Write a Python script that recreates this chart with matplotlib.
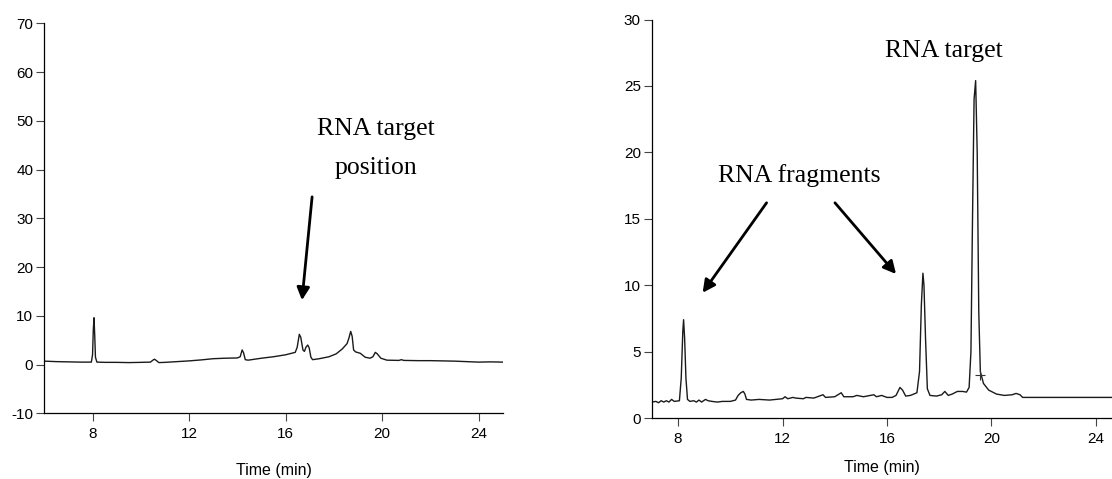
import matplotlib
matplotlib.use("Agg")
import matplotlib.pyplot as plt

plt.rcParams["font.family"] = ["Liberation Sans", "DejaVu Sans"]
plt.rcParams["axes.unicode_minus"] = False

# ---- Chromatogram A: sample without target (time in min, absorbance) ----
time_a = [6.0, 6.5, 7.0, 7.5, 7.95, 8.0, 8.03, 8.06, 8.09, 8.12, 8.18, 8.5, 9.0,
          9.5, 10.0, 10.4, 10.5, 10.57, 10.65, 10.75, 11.0, 11.5, 12.0, 12.5,
          13.0, 13.5, 14.0, 14.12, 14.2, 14.26, 14.33, 14.45, 15.0, 15.5, 16.0,
          16.4, 16.48, 16.57, 16.63, 16.72, 16.78, 16.85, 16.92, 16.98, 17.05,
          17.12, 17.4, 17.8, 18.1, 18.35, 18.55, 18.63, 18.7, 18.76, 18.82,
          18.9, 19.1, 19.3, 19.5, 19.62, 19.72, 19.8, 19.95, 20.2, 20.7, 20.8,
          20.9, 21.5, 22.0, 22.5, 23.0, 23.5, 24.0, 24.5, 25.0]
signal_a = [0.7, 0.6, 0.55, 0.5, 0.5, 2.0, 7.0, 9.6, 6.0, 1.5, 0.5, 0.45, 0.45,
            0.4, 0.45, 0.5, 0.9, 1.1, 0.8, 0.4, 0.45, 0.6, 0.75, 0.95,
            1.2, 1.3, 1.35, 1.6, 3.0, 2.4, 1.0, 0.9, 1.3, 1.6, 2.0,
            2.5, 3.5, 6.2, 5.6, 3.0, 2.7, 3.6, 4.0, 3.4, 1.5,
            1.0, 1.2, 1.6, 2.2, 3.2, 4.3, 5.5, 6.8, 5.8, 3.0,
            2.6, 2.3, 1.5, 1.3, 1.6, 2.5, 2.2, 1.3, 0.9, 0.85, 1.0,
            0.85, 0.8, 0.8, 0.75, 0.7, 0.6, 0.5, 0.55, 0.5]

# ---- Chromatogram B: sample with target ----
time_b = [7.0, 7.15, 7.25, 7.35, 7.45, 7.55, 7.65, 7.75, 7.85, 8.05, 8.12, 8.18,
          8.21, 8.25, 8.3, 8.36, 8.45, 8.6, 8.7, 8.8, 8.9, 9.05, 9.15, 9.3,
          9.5, 9.7, 10.0, 10.2, 10.3, 10.4, 10.5, 10.56, 10.62, 10.8, 11.1,
          11.5, 12.0, 12.1, 12.2, 12.4, 12.5, 12.8, 12.9, 13.2, 13.55, 13.65,
          14.0, 14.25, 14.35, 14.7, 14.85, 15.1, 15.5, 15.6, 15.8, 16.0, 16.2,
          16.35, 16.5, 16.6, 16.72, 16.9, 17.15, 17.25, 17.32, 17.38, 17.42,
          17.48, 17.55, 17.65, 17.9, 18.1, 18.22, 18.35, 18.5, 18.7, 18.9,
          19.05, 19.15, 19.22, 19.28, 19.34, 19.4, 19.46, 19.52, 19.58, 19.7,
          19.9, 20.2, 20.5, 20.8, 20.95, 21.1, 21.2, 22.0, 23.0, 24.0, 25.0]
signal_b = [1.2, 1.25, 1.15, 1.3, 1.2, 1.3, 1.2, 1.4, 1.25, 1.3, 3.0, 6.5,
            7.4, 6.0, 3.0, 1.4, 1.25, 1.3, 1.2, 1.35, 1.2, 1.4, 1.3, 1.25,
            1.2, 1.25, 1.25, 1.35, 1.7, 1.9, 2.0, 1.8, 1.4, 1.35, 1.4,
            1.35, 1.45, 1.6, 1.45, 1.55, 1.5, 1.45, 1.55, 1.5, 1.75, 1.55,
            1.6, 1.9, 1.6, 1.6, 1.7, 1.6, 1.75, 1.6, 1.7, 1.55, 1.55,
            1.7, 2.3, 2.1, 1.65, 1.7, 1.9, 3.5, 8.5, 10.9, 10.0,
            6.0, 2.2, 1.7, 1.65, 1.75, 2.0, 1.7, 1.8, 2.0, 2.0,
            1.95, 2.3, 5.0, 15.0, 24.0, 25.4, 20.0, 8.0, 3.5, 2.6,
            2.1, 1.8, 1.7, 1.75, 1.85, 1.75, 1.55, 1.55, 1.55, 1.55, 1.55]
integration_mark = (19.57, 3.2)

ticks_x = [8, 12, 16, 20, 24]
ticks_y_a = [-10, 0, 10, 20, 30, 40, 50, 60, 70]
ticks_y_b = [0, 5, 10, 15, 20, 25, 30]

W, H = 1112, 479
fig = plt.figure(figsize=(W / 100, H / 100), dpi=100)


def px_axes(x0, y_top, x1, y_bot):
    return fig.add_axes([x0 / W, 1 - y_bot / H, (x1 - x0) / W, (y_bot - y_top) / H])


def style(ax, fs):
    for s in ("top", "right"):
        ax.spines[s].set_visible(False)
    for s in ("left", "bottom"):
        ax.spines[s].set_linewidth(0.9)
    ax.tick_params(direction="out", length=6, width=0.8, labelsize=fs,
                   color="#444444")
    ax.tick_params(axis="y", pad=2.0)
    ax.tick_params(axis="x", pad=4.0)


serif = dict(family=["Liberation Serif", "DejaVu Serif"], fontsize=18.5,
             color="black")
arrow = dict(arrowstyle="-|>,head_length=0.75,head_width=0.38", lw=2.0,
             color="black", shrinkA=0, shrinkB=0, mutation_scale=10)

# Left panel
ax1 = px_axes(44.3, 23.3, 502.7, 413.3)
ax1.plot(time_a, signal_a, color="#1a1a1a", lw=1.0)
ax1.set_xlim(6, 25)
ax1.set_ylim(-10, 70)
ax1.set_xticks(ticks_x)
ax1.set_yticks(ticks_y_a)
style(ax1, 11)
ax1.set_xlabel("Time (min)", fontsize=11.5, va="center")
ax1.xaxis.set_label_coords(0.5, -0.146)
ax1.text(19.75, 47.1, "RNA target", ha="center", va="baseline", **serif)
ax1.text(19.75, 39.1, "position", ha="center", va="baseline", **serif)
ax1.annotate("", xy=(16.68, 13.2), xytext=(17.1, 34.4), arrowprops=arrow)

# Right panel
ax2 = px_axes(652, 19.5, 1121.8, 418)
ax2.plot(time_b, signal_b, color="#1a1a1a", lw=1.0)
ax2.plot(*integration_mark, marker="+", ms=7, mew=0.8, color="#333333")
ax2.set_xlim(7, 25)
ax2.set_ylim(0, 30)
ax2.set_xticks(ticks_x)
ax2.set_yticks(ticks_y_b)
style(ax2, 11)
ax2.set_xlabel("Time (min)", fontsize=11.5, va="center")
ax2.xaxis.set_label_coords(0.49, -0.123)
ax2.text(18.17, 27.15, "RNA target", ha="center", va="baseline", **serif)
ax2.text(12.63, 17.8, "RNA fragments", ha="center", va="baseline", **serif)
ax2.annotate("", xy=(8.94, 9.43), xytext=(11.39, 16.2), arrowprops=arrow)
ax2.annotate("", xy=(16.35, 10.84), xytext=(14.01, 16.2), arrowprops=arrow)

fig.savefig("out.png", dpi=100)
